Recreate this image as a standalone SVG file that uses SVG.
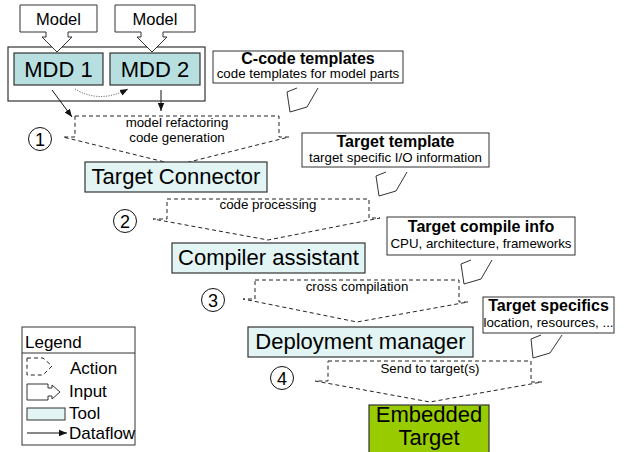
<svg xmlns="http://www.w3.org/2000/svg" width="627" height="452" viewBox="0 0 627 452">
<defs>
<style>
text{font-family:"Liberation Sans",Arial,sans-serif;fill:#000}
.box{stroke:#333;stroke-width:1.2}
.mdd{fill:#b7dfe0}
.tool{fill:#e2f4f4}
.input{fill:#fff;stroke:#333;stroke-width:1}
.action{fill:none;stroke:#222;stroke-width:1;stroke-dasharray:4 3}
.flow{fill:none;stroke:#111;stroke-width:1}
.dot{fill:none;stroke:#444;stroke-width:1;stroke-dasharray:1 1.5}
.circ{fill:#fff;stroke:#111;stroke-width:1}
.big{font-size:22px}
.num{font-size:18px}
.mid{text-anchor:middle}
.b{font-weight:bold;font-size:16px}
.s{font-size:13.3px}
.leg{font-size:17px}
</style>
<marker id="ah" viewBox="0 0 10 10" refX="10" refY="5" markerWidth="8" markerHeight="8" markerUnits="userSpaceOnUse" orient="auto">
<path d="M0,1 L10,5 L0,9 Z" fill="#111"/>
</marker>
</defs>
<rect width="627" height="452" fill="#fff"/>

<g id="mdd-container">
<rect x="8" y="47" width="197" height="54" fill="#fff" stroke="#333" stroke-width="1.2"/>
</g>
<g id="mdd1">
<rect class="box mdd" x="14" y="53" width="89" height="32"/>
<text class="big mid" x="58.5" y="77">MDD 1</text>
</g>
<g id="mdd2">
<rect class="box mdd" x="110" y="53" width="90" height="32"/>
<text class="big mid" x="155" y="77">MDD 2</text>
</g>
<g id="model1">
<path class="input" d="M20,5 H97 V32 H68 V37 H72 L57,52 L42,37 H46 V32 H20 Z"/>
<text class="mid" font-size="16.5" x="58.5" y="25">Model</text>
</g>
<g id="model2">
<path class="input" d="M115,5 H195 V32 H163 V37 H167 L152,52 L137,37 H141 V32 H115 Z"/>
<text class="mid" font-size="16.5" x="155" y="25">Model</text>
</g>

<g id="ccode">
<rect x="213" y="51" width="190" height="32" fill="#fff" stroke="#333" stroke-width="1"/>
<path fill="#fff" stroke="#333" stroke-width="1" d="M297,88 L287,92 L290,112 L307,107 L318,88"/>
<text class="b mid" x="308" y="63.5">C-code templates</text>
<text class="s mid" x="308" y="78">code templates for model parts</text>
</g>

<g id="action1">
<path class="action" d="M75,116 H279 V137 H289 L177,165 L63,137 H75 Z"/>
<text class="s mid" x="177" y="127">model refactoring</text>
<text class="s mid" x="177" y="142">code generation</text>
<circle class="circ" cx="40" cy="139" r="11.5"/>
<text class="num mid" x="40" y="145.5">1</text>
</g>

<g id="target-connector">
<rect class="box tool" x="85" y="162" width="182" height="30"/>
<text class="big mid" x="176" y="184">Target Connector</text>
</g>

<g id="target-template">
<rect x="302" y="133" width="187" height="34" fill="#fff" stroke="#333" stroke-width="1"/>
<path fill="#fff" stroke="#333" stroke-width="1" d="M386,172 L376,176 L379,196 L396,191 L407,172"/>
<text class="b mid" x="395.5" y="146.5">Target template</text>
<text class="s mid" x="395.5" y="161.5">target specific I/O information</text>
</g>

<g id="action2">
<path class="action" d="M167,199 H369 V218 H380 L268,240 L153,219 H167 Z"/>
<text class="s mid" x="268" y="209">code processing</text>
<circle class="circ" cx="125" cy="221" r="11.5"/>
<text class="num mid" x="125" y="227.5">2</text>
</g>

<g id="compiler-assistant">
<rect class="box tool" x="172" y="243" width="193" height="30"/>
<text class="big mid" x="268.5" y="265">Compiler assistant</text>
</g>

<g id="target-compile-info">
<rect x="387" y="217" width="188" height="38" fill="#fff" stroke="#333" stroke-width="1"/>
<path fill="#fff" stroke="#333" stroke-width="1" d="M471,260 L461,264 L464,284 L481,279 L492,260"/>
<text class="b mid" x="481" y="232">Target compile info</text>
<text class="s mid" x="481" y="248">CPU, architecture, frameworks</text>
</g>

<g id="action3">
<path class="action" d="M255,280 H459 V302 H468 L357,322 L243,299 H255 Z"/>
<text class="s mid" x="357" y="291">cross compilation</text>
<circle class="circ" cx="213" cy="300" r="11.5"/>
<text class="num mid" x="213" y="306.5">3</text>
</g>

<g id="deployment-manager">
<rect class="box tool" x="248" y="327" width="225" height="30"/>
<text class="big mid" x="360.5" y="349">Deployment manager</text>
</g>

<g id="target-specifics">
<rect x="483" y="297" width="131" height="36" fill="#fff" stroke="#333" stroke-width="1"/>
<path fill="#fff" stroke="#333" stroke-width="1" d="M541,335 L531,339 L533,358 L550,353 L562,335"/>
<text class="b mid" x="548.5" y="310.5">Target specifics</text>
<text class="s mid" x="548.5" y="326.5">location, resources, ...</text>
</g>

<g id="action4">
<path class="action" d="M328,361 H531 V382 H542 L430,402 L315,381 H328 Z"/>
<text class="s mid" x="430" y="373">Send to target(s)</text>
<circle class="circ" cx="282" cy="378" r="11.5"/>
<text class="num mid" x="282" y="384.5">4</text>
</g>

<g id="embedded-target">
<rect x="369" y="405" width="120" height="60" fill="#99cc00" stroke="#333" stroke-width="1.2"/>
<text class="big mid" x="429" y="422">Embedded</text>
<text class="big mid" x="429" y="445">Target</text>
</g>

<g id="connectors">
<line class="flow" x1="52" y1="90" x2="72" y2="117" marker-end="url(#ah)"/>
<line class="flow" x1="161" y1="90" x2="161" y2="111" marker-end="url(#ah)"/>
<path class="dot" d="M75,89 Q100,104 128,89" marker-end="url(#ah)"/>
</g>

<g id="legend">
<rect x="22" y="327" width="113" height="118" fill="#fff" stroke="#333" stroke-width="1"/>
<line x1="22" y1="353" x2="135" y2="353" stroke="#333" stroke-width="1"/>
<text class="leg" x="25" y="348">Legend</text>
<path class="action" d="M27,358 H43 L52,366 L43,375 H27 Z" stroke-dasharray="3 3"/>
<text class="leg" x="70" y="374">Action</text>
<path class="input" d="M27,384 H48 V388 H52 V385 L60,392 L52,399 V396 H48 V400 H27 Z"/>
<text class="leg" x="69" y="397">Input</text>
<rect x="27" y="408" width="38" height="12" fill="#e2f4f4" stroke="#333" stroke-width="1"/>
<text class="leg" x="69" y="419">Tool</text>
<line class="flow" x1="27" y1="433" x2="67" y2="433" marker-end="url(#ah)"/>
<text class="leg" x="69" y="439">Dataflow</text>
</g>
</svg>
